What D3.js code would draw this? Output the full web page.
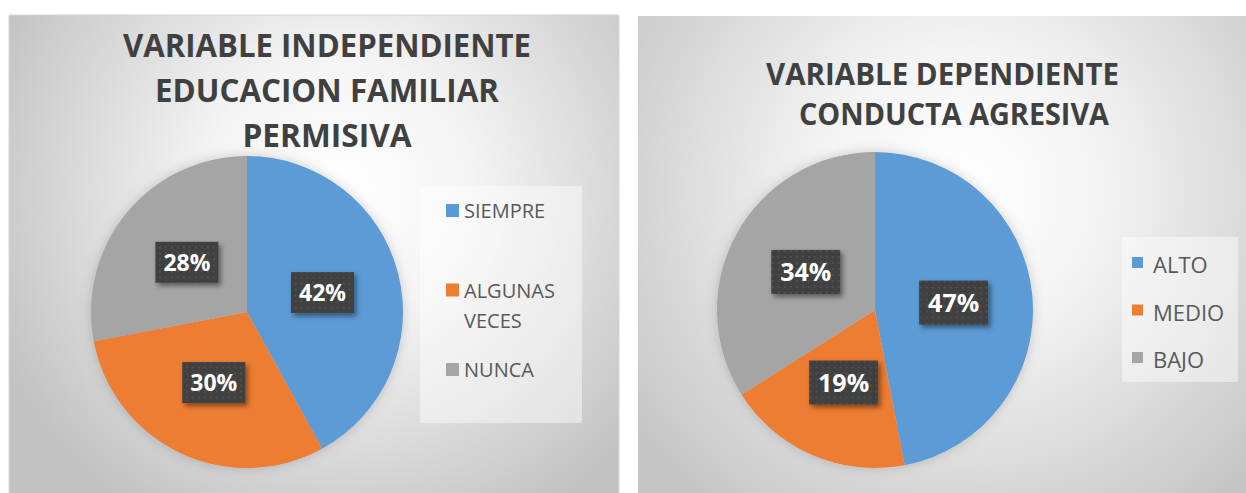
<!DOCTYPE html>
<html>
<head>
<meta charset="utf-8">
<script src="https://cdn.jsdelivr.net/npm/d3@7/dist/d3.min.js"></script>
<style>
  html, body { margin: 0; padding: 0; background: #ffffff; }
  svg { display: block; }
</style>
</head>
<body>
<svg id="chart" width="1246" height="493"></svg>
<script>
// ---- data ----
const leftTitle = ["VARIABLE INDEPENDIENTE", "EDUCACION FAMILIAR", "PERMISIVA"];
const leftCategories = ["SIEMPRE", "ALGUNAS VECES", "NUNCA"];
const leftValues = [42, 30, 28];

const rightTitle = ["VARIABLE DEPENDIENTE", " CONDUCTA AGRESIVA"];
const rightCategories = ["ALTO", "MEDIO", "BAJO"];
const rightValues = [47, 19, 34];

const sliceColors = ["#5B9BD5", "#ED7D31", "#A5A5A5"];

// ---- setup ----
const svg = d3.select("#chart");
const defs = svg.append("defs");

function gradient(id, cx, cy, r, edge) {
  const g = defs.append("radialGradient").attr("id", id)
    .attr("gradientUnits", "userSpaceOnUse")
    .attr("cx", cx).attr("cy", cy).attr("r", r);
  g.append("stop").attr("offset", 0).attr("stop-color", "#ffffff");
  g.append("stop").attr("offset", 0.35).attr("stop-color", "#f4f4f4");
  g.append("stop").attr("offset", 1).attr("stop-color", edge);
}
gradient("bgL", 340, 190, 380, "#c2c2c2");
gradient("bgR", 960, 190, 400, "#c6c6c6");

// dotted pattern for label boxes
const pat = defs.append("pattern").attr("id", "dots")
  .attr("patternUnits", "userSpaceOnUse").attr("width", 6).attr("height", 6);
pat.append("rect").attr("width", 6).attr("height", 6).attr("fill", "#404040");
pat.append("circle").attr("cx", 3).attr("cy", 3).attr("r", 0.9).attr("fill", "#575757");

const sh = defs.append("filter").attr("id", "shadow")
  .attr("x", "-30%").attr("y", "-30%").attr("width", "160%").attr("height", "160%");
sh.append("feDropShadow").attr("dx", 2.5).attr("dy", 3).attr("stdDeviation", 2.5)
  .attr("flood-color", "#000").attr("flood-opacity", 0.45);

const pieShadow = defs.append("filter").attr("id", "pieShadow")
  .attr("x", "-20%").attr("y", "-20%").attr("width", "140%").attr("height", "140%");
pieShadow.append("feDropShadow").attr("dx", 0).attr("dy", 0).attr("stdDeviation", 6)
  .attr("flood-color", "#000").attr("flood-opacity", 0.18);

function drawPanel(cfg) {
  const g = svg.append("g");
  // panel background
  g.append("rect").attr("x", cfg.panel[0]).attr("y", cfg.panel[1])
    .attr("width", cfg.panel[2]).attr("height", cfg.panel[3])
    .attr("fill", `url(#${cfg.bg})`)
    .attr("stroke", cfg.border || "none").attr("stroke-width", 1);

  // title
  cfg.title.forEach((t, i) => {
    g.append("text")
      .attr("x", cfg.titleX[i]).attr("y", cfg.titleY[i])
      .attr("text-anchor", "middle")
      .attr("font-family", "'Open Sans', sans-serif")
      .attr("font-weight", 700)
      .attr("font-size", cfg.titleSize)
      .attr("fill", "#404040")
      .attr("textLength", cfg.titleW[i])
      .attr("lengthAdjust", "spacingAndGlyphs")
      .text(t.trim());
  });

  // pie
  const color = d3.scaleOrdinal().domain(cfg.categories).range(sliceColors);
  const pie = d3.pie().sort(null).value(d => d.v);
  const data = pie(cfg.categories.map((c, i) => ({ c, v: cfg.values[i] })));
  const arc = d3.arc().innerRadius(0).outerRadius(cfg.r);
  const pg = g.append("g").attr("transform", `translate(${cfg.cx},${cfg.cy})`);
  pg.append("g").attr("filter", "url(#pieShadow)")
    .selectAll("path").data(data).join("path")
    .attr("d", arc)
    .attr("fill", d => color(d.data.c));

  // labels
  const lab = pg.selectAll("g.lab").data(data).join("g")
    .attr("class", "lab")
    .attr("transform", d => `translate(${arc.centroid(d)})`);
  lab.append("rect")
    .attr("x", -cfg.box[0] / 2).attr("y", -cfg.box[1] / 2)
    .attr("width", cfg.box[0]).attr("height", cfg.box[1])
    .attr("fill", "url(#dots)")
    .attr("filter", "url(#shadow)");
  lab.append("text")
    .attr("text-anchor", "middle")
    .attr("dy", "0.36em")
    .attr("font-family", "'Open Sans', sans-serif")
    .attr("font-weight", 700)
    .attr("font-size", cfg.labelSize)
    .attr("fill", "#ffffff")
    .text(d => Math.round(d.data.v) + "%");

  // legend
  const lb = cfg.legendBox;
  g.append("rect").attr("x", lb[0]).attr("y", lb[1]).attr("width", lb[2]).attr("height", lb[3])
    .attr("fill", "#ffffff").attr("fill-opacity", 0.45);
  const ly = d3.scalePoint().domain(cfg.categories).range(cfg.legendRange);
  const items = g.selectAll("g.leg").data(cfg.categories).join("g")
    .attr("class", "leg")
    .attr("transform", d => `translate(${cfg.legendX},${ly(d)})`);
  items.append("rect")
    .attr("x", 0).attr("y", -cfg.sq)
    .attr("width", cfg.sq).attr("height", cfg.sq)
    .attr("fill", d => color(d));
  items.each(function (d) {
    const lines = cfg.wrap ? d.split(" ") : [d];
    const t = d3.select(this).append("text")
      .attr("font-family", "'Open Sans', sans-serif")
      .attr("font-size", cfg.legendSize)
      .attr("fill", "#595959");
    lines.forEach((w, i) => {
      t.append("tspan").attr("x", cfg.textDx).attr("y", cfg.textDy + i * cfg.lineH).text(w);
    });
  });
}

drawPanel({
  panel: [9, 15, 610, 480], bg: "bgL", border: "#d6d6d6",
  title: leftTitle, titleX: [327, 327, 327], titleY: [57, 102, 147],
  titleW: [408, 344, 169], titleSize: 33,
  categories: leftCategories, values: leftValues,
  cx: 247, cy: 312, r: 156,
  box: [63, 41], labelSize: 23,
  legendBox: [420, 186, 162, 237],
  legendX: 446, legendRange: [217, 376], sq: 13, textDx: 18, textDy: 1,
  legendSize: 20, lineH: 30, wrap: true
});

drawPanel({
  panel: [638, 16, 608, 477], bg: "bgR",
  title: rightTitle, titleX: [942.5, 954], titleY: [85, 125],
  titleW: [353, 310], titleSize: 31,
  categories: rightCategories, values: rightValues,
  cx: 875, cy: 310, r: 158,
  box: [69, 44], labelSize: 25,
  legendBox: [1122, 237, 116, 145],
  legendX: 1132, legendRange: [268, 363], sq: 11, textDx: 21, textDy: 5,
  legendSize: 22, lineH: 30, wrap: false
});
</script>
</body>
</html>
